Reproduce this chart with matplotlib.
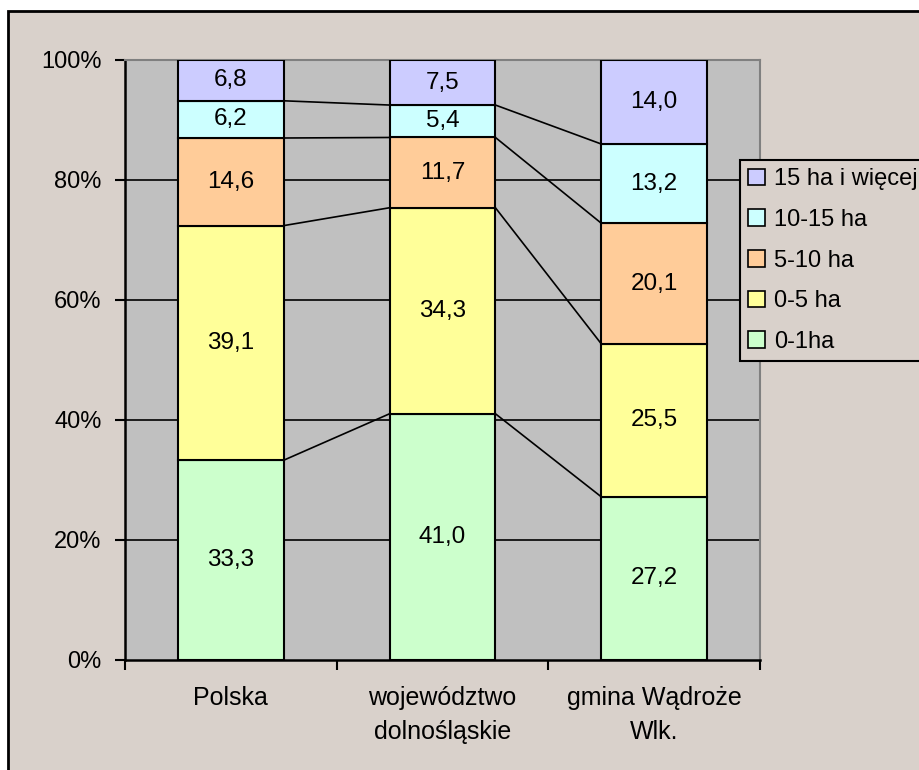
import numpy as np
import matplotlib.pyplot as plt
from matplotlib.patches import Rectangle, Patch

plt.rcParams['font.family'] = ['Liberation Sans', 'DejaVu Sans']

# data
categories = ['Polska', 'województwo\ndolnośląskie', 'gmina Wądroże\nWlk.']
series = ['0-1ha', '0-5 ha', '5-10 ha', '10-15 ha', '15 ha i więcej']
values = np.array([
    [33.3, 41.0, 27.2],   # 0-1ha
    [39.1, 34.3, 25.5],   # 0-5 ha
    [14.6, 11.7, 20.1],   # 5-10 ha
    [6.2, 5.4, 13.2],     # 10-15 ha
    [6.8, 7.5, 14.0],     # 15 ha i więcej
])
colors = ['#CCFFCC', '#FFFF99', '#FFCC99', '#CCFFFF', '#CCCCFF']

bg = '#D9D1CB'
fig = plt.figure(figsize=(9.2, 7.7), dpi=100, facecolor='white')
fig.patches.append(Rectangle((8 / 920, -0.1), 1.2, (770 - 11) / 770 + 0.1,
                             transform=fig.transFigure, facecolor=bg,
                             edgecolor='black', linewidth=2, zorder=-1))

ax = fig.add_axes([125 / 920, 110 / 770, 635 / 920, 600 / 770])
ax.set_facecolor('#C0C0C0')

# 100% stacked
shares = values / values.sum(axis=0)
x = np.arange(len(categories))
width = 0.5
bottom = np.zeros(len(categories))
for i in range(len(series)):
    ax.bar(x, shares[i], width, bottom=bottom, color=colors[i],
           edgecolor='black', linewidth=1.5, zorder=3, label=series[i])
    for j in range(len(categories)):
        ax.text(x[j], bottom[j] + shares[i][j] / 2,
                ('%.1f' % values[i][j]).replace('.', ','),
                ha='center', va='center', fontsize=17.5, zorder=4)
    bottom = bottom + shares[i]

# series lines between bars
cum = np.cumsum(shares, axis=0)
for i in range(len(series) - 1):
    for j in range(len(categories) - 1):
        ax.plot([x[j] + width / 2, x[j + 1] - width / 2], [cum[i][j], cum[i][j + 1]],
                color='black', linewidth=1.2, zorder=2)

# grid lines
for g in [0.2, 0.4, 0.6, 0.8]:
    ax.axhline(g, color='black', linewidth=1.2, zorder=1)

ax.set_xlim(-0.5, 2.5)
ax.set_ylim(0, 1)
ax.set_yticks(np.arange(0, 1.01, 0.2))
ax.set_yticklabels(['%d%%' % round(v * 100) for v in np.arange(0, 1.01, 0.2)], fontsize=17)
ax.set_xticks([-0.5, 0.5, 1.5, 2.5])
ax.set_xticklabels([])
ax.set_xticks(x, minor=True)
ax.set_xticklabels(categories, minor=True, fontsize=18, linespacing=1.5)
ax.tick_params(axis='x', which='minor', length=0, pad=19)
ax.tick_params(axis='both', which='major', length=7, width=1.5, direction='out')
ax.tick_params(axis='y', pad=10)

for s in ['left', 'bottom']:
    ax.spines[s].set_linewidth(1.8)
    ax.spines[s].set_color('black')
for s in ['top', 'right']:
    ax.spines[s].set_linewidth(1.5)
    ax.spines[s].set_color('#808080')

handles = [Patch(facecolor=colors[i], edgecolor='black', linewidth=1.2) for i in range(len(series))][::-1]
leg = fig.legend(handles, series[::-1], loc='upper left', bbox_to_anchor=(740 / 920, 1 - 160 / 770),
                 bbox_transform=fig.transFigure, borderaxespad=0, frameon=True, fancybox=False,
                 fontsize=17, handlelength=0.7, handleheight=0.7, handletextpad=0.4,
                 labelspacing=0.79, borderpad=0.35)
leg.get_frame().set_facecolor(bg)
leg.get_frame().set_edgecolor('black')
leg.get_frame().set_linewidth(1.5)
leg.get_frame().set_alpha(1)

fig.savefig('out.png', dpi=100)
